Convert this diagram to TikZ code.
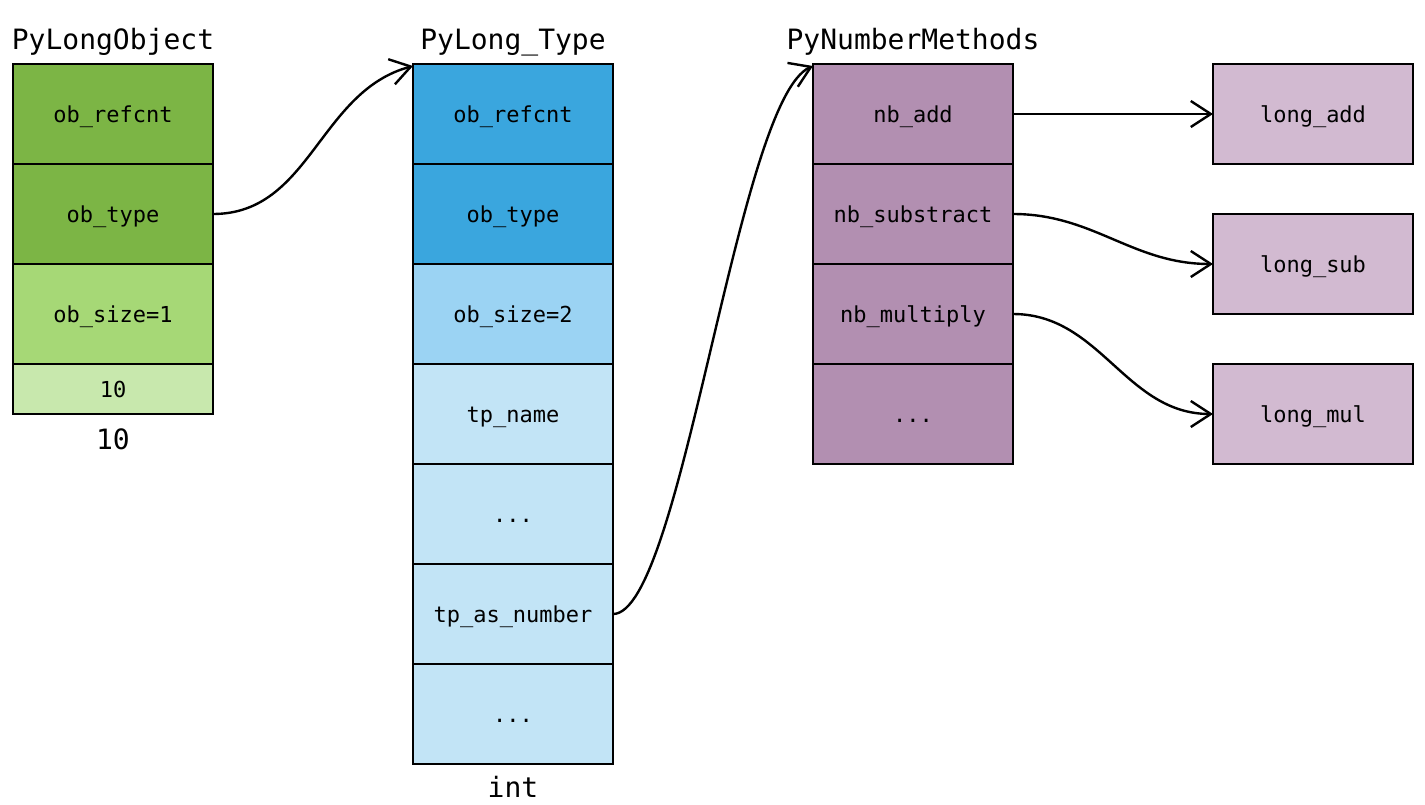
\documentclass[tikz,border=0pt]{standalone}
\usepackage{fontspec}
\setmonofont{DejaVu Sans Mono}
\usepackage{tikz}
\usetikzlibrary{arrows.meta}
\usetikzlibrary{positioning}

\definecolor{greenA}{RGB}{124,181,69}
\definecolor{greenB}{RGB}{166,216,118}
\definecolor{greenC}{RGB}{200,232,173}
\definecolor{blueA}{RGB}{58,166,222}
\definecolor{blueB}{RGB}{155,211,243}
\definecolor{blueC}{RGB}{194,228,246}
\definecolor{purpleA}{RGB}{178,143,177}
\definecolor{purpleB}{RGB}{210,186,209}

\begin{document}
\begin{tikzpicture}[x=0.5pt,y=-0.5pt]
\tikzstyle{cell}=[draw=black,line width=1.25pt,minimum width=100pt,minimum height=50pt,inner sep=0pt,outer sep=0pt,text height=8pt,text depth=0pt,font=\ttfamily\fontsize{11pt}{13pt}\selectfont]
\tikzstyle{halfcell}=[cell,minimum height=25pt]
\tikzstyle{title}=[inner sep=0pt,font=\ttfamily\fontsize{14pt}{16pt}\selectfont]
\tikzstyle{ptr}=[line width=1.2pt,-{Straight Barb[length=10pt,width=13pt,line width=1.2pt]}]
\useasboundingbox (0,0) rectangle (1425,804);
% PyLongObject
\node[cell,fill=greenA] (objrefcnt) at (113,114) {ob\_refcnt};
\node[cell,fill=greenA,below=0pt of objrefcnt] (objtype) {ob\_type};
\node[cell,fill=greenB,below=0pt of objtype] (objsize) {ob\_size=1};
\node[halfcell,fill=greenC,below=0pt of objsize] (objdigit) {10};
\node[title,above=4pt of objrefcnt] (objname) {PyLongObject};
\node[title,below=7pt of objdigit] (objvalue) {10};
% PyLong_Type
\node[cell,fill=blueA] (typerefcnt) at (513,114) {ob\_refcnt};
\node[cell,fill=blueA,below=0pt of typerefcnt] (typetype) {ob\_type};
\node[cell,fill=blueB,below=0pt of typetype] (typesize) {ob\_size=2};
\node[cell,fill=blueC,below=0pt of typesize] (typename) {tp\_name};
\node[cell,fill=blueC,below=0pt of typename] (typedots) {...};
\node[cell,fill=blueC,below=0pt of typedots] (typenumber) {tp\_as\_number};
\node[cell,fill=blueC,below=0pt of typenumber] (typerest) {...};
\node[title,above=4pt of typerefcnt] (typetitle) {PyLong\_Type};
\node[title,below=6pt of typerest] (typeint) {int};
% PyNumberMethods
\node[cell,fill=purpleA] (nbadd) at (913,114) {nb\_add};
\node[cell,fill=purpleA,below=0pt of nbadd] (nbsub) {nb\_substract};
\node[cell,fill=purpleA,below=0pt of nbsub] (nbmul) {nb\_multiply};
\node[cell,fill=purpleA,below=0pt of nbmul] (nbdots) {...};
\node[title,above=4pt of nbadd] (nbtitle) {PyNumberMethods};
% functions
\node[cell,fill=purpleB] (longadd) at (1313,114) {long\_add};
\node[cell,fill=purpleB] (longsub) at (1313,264) {long\_sub};
\node[cell,fill=purpleB] (longmul) at (1313,414) {long\_mul};
% pointers
\draw[ptr] (objtype.east) to[out=0,in=195] ([yshift=-1pt]typerefcnt.north west);
\draw[ptr] (typenumber.east) .. controls +(69,0) and +(-76,33) .. ([yshift=-1pt]nbadd.north west);
\draw[ptr] (nbadd.east) -- (longadd.west);
\draw[ptr] (nbsub.east) to[out=0,in=180] (longsub.west);
\draw[ptr] (nbmul.east) to[out=0,in=180] (longmul.west);
\end{tikzpicture}
\end{document}
